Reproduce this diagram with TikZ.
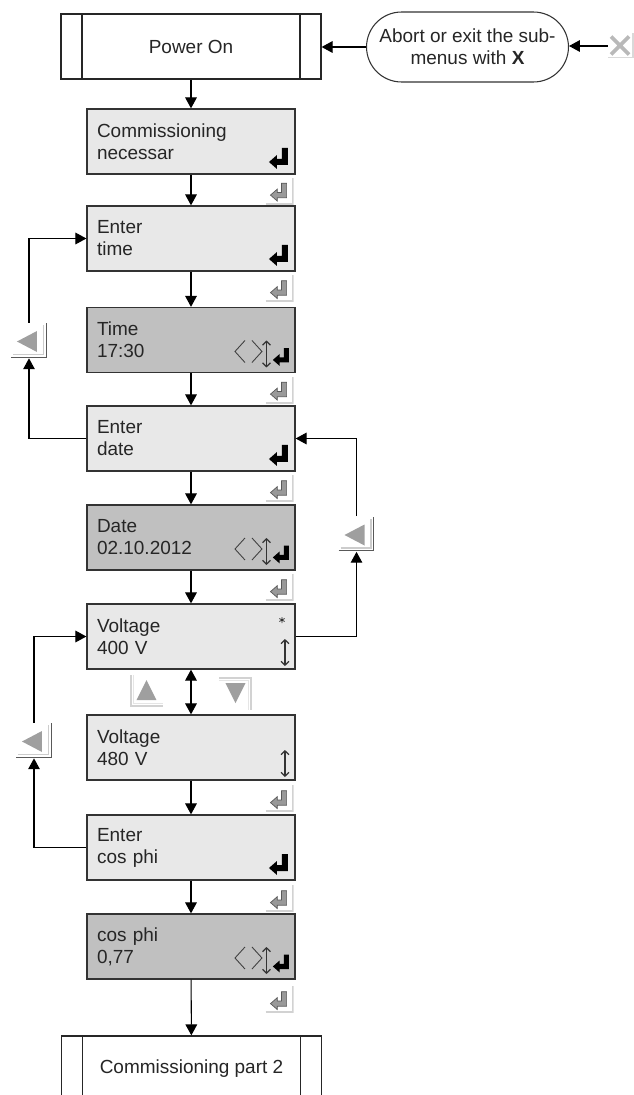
\documentclass[tikz,border=0pt]{standalone}
\usepackage{fontspec}
\setmainfont{Liberation Sans}
\usetikzlibrary{positioning, arrows.meta, shapes.misc}

\definecolor{lcdlight}{HTML}{E8E8E8}
\definecolor{lcddark}{HTML}{C0C0C0}

\begin{document}
\begin{tikzpicture}[
			x=0.02cm, y=-0.02cm,
			font=\fontsize{10.8}{12.5}\selectfont,
			% Styles
			signal/.style={-{Triangle[length=6.2pt, width=6.6pt]}, line width=0.6pt, draw=black},
			twoway/.style={{Triangle[length=6.2pt, width=6.6pt]}-{Triangle[length=6.2pt, width=6.6pt]}, line width=0.6pt, draw=black},
			% Glyphs, drawn relative to the south east corner of their node
			enter glyph/.pic={\path[pic actions] (0,0) -- (0,-17) -- (-6,-17) -- (-6,-6) -- (-11,-6) -- (-11,-10) -- (-19,-3) -- (-11,4) -- (-11,0) -- cycle;},
			updown glyph/.pic={\draw[line width=0.7pt, {Straight Barb[length=2.2pt, width=4.5pt]}-{Straight Barb[length=2.2pt, width=4.5pt]}] (0,0) -- (0,-27);},
			menu marks/.pic={\pic[fill=black] at (-7,-9) {enter glyph};},
			sel marks/.pic={\pic at (-10,-3) {updown glyph};},
			star marks/.pic={\pic at (-10,-3) {updown glyph};
				\draw[line width=0.45pt] (-13,-52) -- (-13,-46) (-15.6,-50.5) -- (-10.4,-47.5) (-15.6,-47.5) -- (-10.4,-50.5);},
			edit marks/.pic={\draw[line width=0.5pt, black!75] (-50,-32) -- (-60,-21) -- (-50,-10) (-43,-32) -- (-33,-21) -- (-43,-10);
				\pic at (-28.5,-5) {updown glyph};
				\pic[fill=black, scale=0.85] at (-6,-10) {enter glyph};},
			key marks/.pic={\draw[gray!35, line width=1pt] (-28,-1) -- (-1,-1) -- (-1,-27);
				\pic[fill=gray!80, draw=black!65, line width=0.4pt, scale=0.85] at (-7,-7) {enter glyph};},
			left marks/.pic={\fill[gray!75] (-30,-16.5) -- (-10,-27) -- (-10,-6) -- cycle;
				\draw[gray!40, line width=1pt] (-34,-3.5) -- (-3.5,-3.5) -- (-3.5,-33);
				\draw[black!65, line width=0.7pt] (-36,-0.7) -- (-0.7,-0.7) -- (-0.7,-35);},
			up marks/.pic={\fill[gray!75] (-16.5,-27) -- (-26.5,-7) -- (-6.5,-7) -- cycle;
				\draw[gray!35, line width=1pt] (-32,-32) -- (-32,-1) -- (0,-1);
				\draw[gray!20, line width=1pt] (-29.5,-32) -- (-29.5,-3.5) -- (0,-3.5);},
			down marks/.pic={\fill[gray!75] (-26.5,-27) -- (-6.5,-27) -- (-16.5,-7) -- cycle;
				\draw[gray!35, line width=1pt] (-33,-32) -- (-1,-32) -- (-1,0);
				\draw[gray!20, line width=1pt] (-33,-29.5) -- (-3.5,-29.5) -- (-3.5,0);},
			x marks/.pic={\draw[gray!55, line width=2.2pt] (-23,-22) -- (-5,-4) (-23,-4) -- (-5,-22);
				\draw[gray!30, line width=1pt] (-26,-1) -- (-1,-1) -- (-1,-25);},
			% Boxes
			start/.style={draw=black!85, line width=0.75pt, fill=white, text=black!85, minimum width=5.2cm, minimum height=1.3cm,
				path picture={\draw[line width=0.75pt, black!85]
					([xshift=0.42cm]path picture bounding box.south west) -- ([xshift=0.42cm]path picture bounding box.north west)
					([xshift=-0.42cm]path picture bounding box.south east) -- ([xshift=-0.42cm]path picture bounding box.north east);}},
			stadium/.style={rounded rectangle, draw=black!80, line width=0.6pt, fill=white, text=black!85, align=center, minimum width=4.18cm, minimum height=1.4cm, inner xsep=2pt},
			menu/.style={draw=black!80, line width=0.75pt, fill=lcdlight, text=black!85, text width=3.76cm, inner xsep=0.2cm, align=left, minimum height=1.3cm},
			menu enter/.style={menu, path picture={\pic at (path picture bounding box.south east) {menu marks};}},
			menu sel/.style={menu, path picture={\pic at (path picture bounding box.south east) {sel marks};}},
			menu sel star/.style={menu, path picture={\pic at (path picture bounding box.south east) {star marks};}},
			editbox/.style={menu, fill=lcddark, path picture={\pic at (path picture bounding box.south east) {edit marks};}},
			% Keys
			enterkey/.style={minimum width=0.56cm, minimum height=0.54cm, inner sep=0pt,
				path picture={\pic at (path picture bounding box.south east) {key marks};}},
			navkey/.style={minimum width=0.72cm, minimum height=0.7cm, inner sep=0pt,
				path picture={\pic at (path picture bounding box.south east) {left marks};}},
			upkey/.style={minimum width=0.66cm, minimum height=0.64cm, inner sep=0pt,
				path picture={\pic at (path picture bounding box.south east) {up marks};}},
			downkey/.style={minimum width=0.66cm, minimum height=0.66cm, inner sep=0pt,
				path picture={\pic at (path picture bounding box.south east) {down marks};}},
			xkey/.style={minimum width=0.52cm, minimum height=0.5cm, inner sep=0pt,
				path picture={\pic at (path picture bounding box.south east) {x marks};}}
			]
			
			\useasboundingbox (0,0) rectangle (634,1095);
			
			% --- Start and abort ---
			\node[start] (power) at (191,46.5) {Power On};
			\node[stadium] (abort) at (467.5,47) {Abort or exit the sub-\\menus with \textbf{X}};
			\node[xkey] (xkey) at (621,46) {};
			
			\draw[signal] (abort.west) -- (abort.west -| power.east);
			\draw[signal] (xkey.west) -- (xkey.west -| abort.east);
			
			% --- Menu column ---
			\node[menu enter] (commis) at (191,141.5) {Commissioning\\necessar};
			\node[menu enter] (etime) at (191,238.5) {Enter\\time};
			\node[editbox] (time) at (191,340) {Time\\17:30};
			\node[menu enter] (edate) at (191,438.5) {Enter\\date};
			\node[editbox] (date) at (191,537.5) {Date\\02.10.2012};
			\node[menu sel star] (volta) at (191,636.5) {Voltage\\400 V};
			\node[menu sel] (voltb) at (191,747.5) {Voltage\\480 V};
			\node[menu enter] (ecos) at (191,847.5) {Enter\\cos phi};
			\node[editbox] (cosphi) at (191,946.5) {cos phi\\0,77};
			\node[start] (part2) at (191.5,1068.5) {Commissioning part 2};
			
			% Enter keys beside the downward arrows
			\node[enterkey] (key1) at ([shift={(-16,16.5)}]commis.south east) {};
			\node[enterkey] (key2) at ([shift={(-16,17)}]etime.south east) {};
			\node[enterkey] (key3) at ([shift={(-16,17)}]time.south east) {};
			\node[enterkey] (key4) at ([shift={(-16,17)}]edate.south east) {};
			\node[enterkey] (key5) at ([shift={(-16,17)}]date.south east) {};
			\node[enterkey] (key6) at ([shift={(-16,18)}]voltb.south east) {};
			\node[enterkey] (key7) at ([shift={(-16,18)}]ecos.south east) {};
			\node[enterkey] (key8) at ([shift={(-16,20)}]cosphi.south east) {};
			
			% Arrow keys
			\node[upkey] (upk) at (146.5,691) {};
			\node[downkey] (downk) at (235.5,693.5) {};
			\node[navkey] (navA) at (29,340.5) {};
			\node[navkey] (navB) at (356.5,534) {};
			\node[navkey] (navC) at (34,740.5) {};
			
			% --- Connections ---
			\draw[signal] (power) -- (commis);
			\draw[signal] (commis) -- (etime);
			\draw[signal] (etime) -- (time);
			\draw[signal] (time) -- (edate);
			\draw[signal] (edate) -- (date);
			\draw[signal] (date) -- (volta);
			\draw[twoway] (volta) -- (voltb);
			\draw[signal] (voltb) -- (ecos);
			\draw[signal] (ecos) -- (cosphi);
			\draw[signal] (cosphi) -- (part2);
			
			% Back loops
			\draw[signal] (edate.west) -| (navA.south);
			\draw[signal] (navA.north) |- (etime.west);
			\draw[signal] (volta.east) -| (navB.south);
			\draw[signal] (navB.north) |- (edate.east);
			\draw[signal] (ecos.west) -| (navC.south);
			\draw[signal] (navC.north) |- (volta.west);
			
		\end{tikzpicture}
\end{document}
